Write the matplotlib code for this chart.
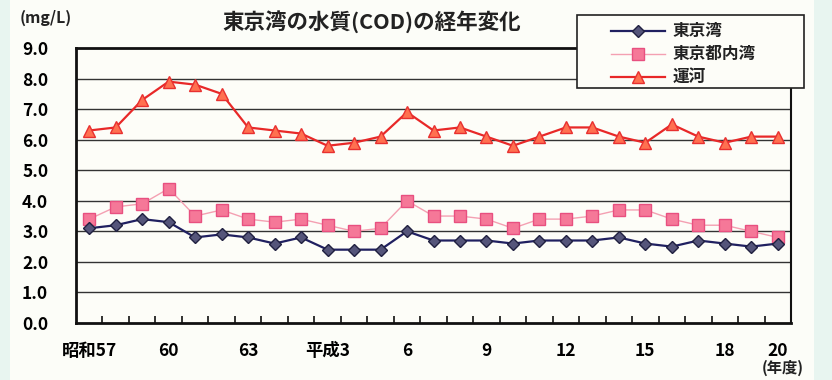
import numpy as np
import matplotlib.pyplot as plt
from matplotlib.patches import Rectangle
from matplotlib.ticker import FixedLocator

plt.rcParams['font.family'] = ['Noto Sans CJK JP', 'DejaVu Sans']

# 年度: 昭和57(1982) - 平成20(2008)
years = list(range(27))
tick_pos = [0, 3, 6, 9, 12, 15, 18, 21, 24, 26]
tick_labels = ['昭和57', '60', '63', '平成3', '6', '9', '12', '15', '18', '20']

# COD (mg/L)
tokyo_wan = [3.1, 3.2, 3.4, 3.3, 2.8, 2.9, 2.8, 2.6, 2.8, 2.4, 2.4, 2.4, 3.0, 2.7,
             2.7, 2.7, 2.6, 2.7, 2.7, 2.7, 2.8, 2.6, 2.5, 2.7, 2.6, 2.5, 2.6]
tokyo_to_naiwan = [3.4, 3.8, 3.9, 4.4, 3.5, 3.7, 3.4, 3.3, 3.4, 3.2, 3.0, 3.1, 4.0, 3.5,
                   3.5, 3.4, 3.1, 3.4, 3.4, 3.5, 3.7, 3.7, 3.4, 3.2, 3.2, 3.0, 2.8]
unga = [6.3, 6.4, 7.3, 7.9, 7.8, 7.5, 6.4, 6.3, 6.2, 5.8, 5.9, 6.1, 6.9, 6.3,
        6.4, 6.1, 5.8, 6.1, 6.4, 6.4, 6.1, 5.9, 6.5, 6.1, 5.9, 6.1, 6.1]

fig = plt.figure(figsize=(8.32, 3.8), dpi=100, facecolor='#fcfdf8')
# 左右の淡い縁取り
fig.patches.append(Rectangle((0, 0), 0.012, 1, transform=fig.transFigure,
                             facecolor='#e8f5f0', edgecolor='none', zorder=0))
fig.patches.append(Rectangle((0.978, 0), 0.022, 1, transform=fig.transFigure,
                             facecolor='#e8f5f0', edgecolor='none', zorder=0))

ax = fig.add_axes([76 / 832, 1 - 323 / 380, 715 / 832, 275 / 380])
ax.set_facecolor('#fdfdf8')

ax.plot(years, tokyo_wan, color='#202060', lw=1.6, marker='D', ms=6.5,
        mfc='#55557a', mec='#202040', mew=1, label='東京湾', zorder=4)
ax.plot(years, tokyo_to_naiwan, color='#f4a0b2', lw=1.0, marker='s', ms=8,
        mfc='#f57898', mec='#e85080', mew=1, label='東京都内湾', zorder=3)
ax.plot(years, unga, color='#e82828', lw=1.6, marker='^', ms=8.5,
        mfc='#ff7050', mec='#e83030', mew=1, label='運河', zorder=3)

ax.set_xlim(-0.5, 26.5)
ax.set_ylim(0, 9)
ax.set_yticks(np.arange(0, 9.1, 1.0))
ax.set_yticklabels([f'{v:.1f}' for v in np.arange(0, 9.1, 1.0)],
                   fontsize=12.5, fontweight='bold')
ax.tick_params(axis='y', length=0, pad=20)
ax.set_xticks(tick_pos)
ax.set_xticklabels(tick_labels, fontsize=12.5, fontweight='bold')
ax.xaxis.set_minor_locator(FixedLocator(np.arange(0.5, 26, 1.0)))
ax.tick_params(axis='x', which='major', length=0, pad=14)
ax.tick_params(axis='x', which='minor', bottom=True, direction='in', length=5,
               width=1.3, color='#222222')

for v in range(1, 9):
    ax.axhline(v, color='#333333', lw=1.0, zorder=1)

for side in ['left', 'bottom', 'top']:
    ax.spines[side].set_linewidth(2.0)
    ax.spines[side].set_color('#111111')
ax.spines['right'].set_linewidth(1.5)
ax.spines['right'].set_color('#111111')

fig.text(372 / 832, 1 - 22 / 380, '東京湾の水質(COD)の経年変化', ha='center', va='center',
         fontsize=15.5, fontweight='bold', color='#222222')
fig.text(20 / 832, 1 - 18 / 380, '(mg/L)', ha='left', va='center',
         fontsize=11.5, fontweight='bold', color='#222222')
fig.text(783 / 832, 1 - 368 / 380, '(年度)', ha='center', va='center',
         fontsize=11, fontweight='bold', color='#222222')

# 凡例の枠
fig.patches.append(Rectangle((577 / 832, 1 - 88 / 380), 227 / 832, 73 / 380,
                             transform=fig.transFigure, facecolor='#fdfdf8',
                             edgecolor='#222222', linewidth=1.2, zorder=9))
handles, labels = ax.get_legend_handles_labels()
leg = fig.legend(handles, labels, loc='upper left',
                 bbox_to_anchor=(608 / 832, 1 - 19 / 380),
                 prop={'weight': 'bold', 'size': 12}, frameon=False,
                 borderaxespad=0, handlelength=3.2, labelspacing=0.3, borderpad=0.2,
                 handletextpad=0.5)
leg.set_zorder(10)
for t in leg.get_texts():
    t.set_color('#222222')

fig.savefig('out.png', dpi=100, facecolor=fig.get_facecolor())
